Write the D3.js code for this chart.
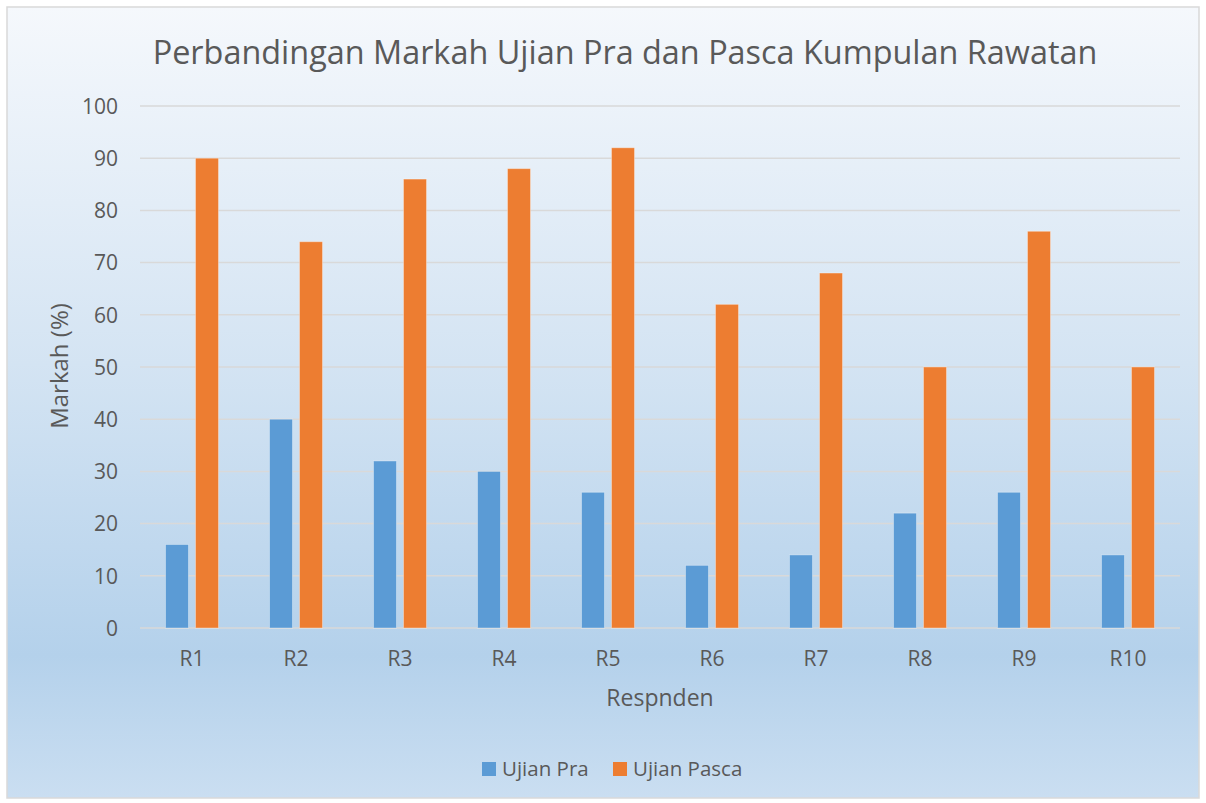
<!DOCTYPE html>
<html><head><meta charset="utf-8">
<script src="https://cdn.jsdelivr.net/npm/d3@7"></script>
<style>html,body{margin:0;padding:0;background:#fff;}svg{display:block;}</style>
</head><body>
<script>
const categories = ["R1","R2","R3","R4","R5","R6","R7","R8","R9","R10"];
const ujianPra = [16,40,32,30,26,12,14,22,26,14];
const ujianPasca = [90,74,86,88,92,62,68,50,76,50];
const seriesNames = ["Ujian Pra","Ujian Pasca"];
const yTicks = [0,10,20,30,40,50,60,70,80,90,100];
const colors = ["#5b9bd5","#ed7d31"];
const font = "'Open Sans', 'Noto Sans', sans-serif";
const textColor = "#595959";

const W = 1206, H = 803;
const svg = d3.select("body").append("svg").attr("width", W).attr("height", H);
const defs = svg.append("defs");
const grad = defs.append("linearGradient").attr("id","bg").attr("x1",0).attr("y1",0).attr("x2",0).attr("y2",1);
grad.append("stop").attr("offset","0%").attr("stop-color","#f5f8fc");
grad.append("stop").attr("offset","45%").attr("stop-color","#d4e4f3");
grad.append("stop").attr("offset","82%").attr("stop-color","#b4d1eb");
grad.append("stop").attr("offset","100%").attr("stop-color","#cadef1");

svg.append("rect").attr("x",7).attr("y",7).attr("width",W-14).attr("height",H-12)
  .attr("fill","url(#bg)").attr("stroke","#d9d9d9").attr("stroke-width",1.5);

const plot = {left:140, right:1180, top:106, bottom:628};
const x = d3.scaleBand().domain(categories).range([plot.left, plot.right]).paddingInner(0).paddingOuter(0);
const y = d3.scaleLinear().domain([0,100]).range([plot.bottom, plot.top]);
const barW = 23, gapW = 7;

// grid
svg.append("g").selectAll("line").data(yTicks).join("line")
  .attr("x1",plot.left).attr("x2",plot.right)
  .attr("y1",d=>y(d)).attr("y2",d=>y(d))
  .attr("stroke","#d9d9d9").attr("stroke-width",1.5);

// y tick labels
const yAxis = d3.axisLeft(y).tickValues(yTicks).tickSize(0).tickPadding(0);
const gy = svg.append("g").attr("transform",`translate(118,0)`).call(yAxis);
gy.select(".domain").remove();
gy.selectAll("text").attr("font-family",font).attr("font-size",21).attr("fill",textColor).attr("dy","0.35em");

// x labels
const xAxis = d3.axisBottom(x).tickSize(0).tickPadding(0);
const gx = svg.append("g").attr("transform",`translate(0,${plot.bottom+31})`).call(xAxis);
gx.select(".domain").remove();
gx.selectAll("text").attr("font-family",font).attr("font-size",21).attr("fill",textColor).attr("dy","0.35em");

const data = [ujianPra, ujianPasca];
const groupW = barW*2+gapW;
data.forEach((vals, si) => {
  svg.append("g").selectAll("rect").data(vals).join("rect")
    .attr("x",(d,i)=> x(categories[i]) + x.bandwidth()/2 - groupW/2 + si*(barW+gapW))
    .attr("y",d=>y(d))
    .attr("width",barW)
    .attr("height",d=>y(0)-y(d))
    .attr("fill",colors[si])
    .attr("stroke","rgba(255,255,255,0.35)").attr("stroke-width",1);
});

// title
svg.append("text").attr("x",(155+1095)/2).attr("y",64).attr("text-anchor","middle")
  .attr("font-family",font).attr("font-size",32.4).attr("fill",textColor)
  .text("Perbandingan Markah Ujian Pra dan Pasca Kumpulan Rawatan");

// axis titles
svg.append("text").attr("transform","translate(68,366) rotate(-90)").attr("text-anchor","middle")
  .attr("font-family",font).attr("font-size",24).attr("fill",textColor).text("Markah (%)");
svg.append("text").attr("x",660).attr("y",706).attr("text-anchor","middle")
  .attr("font-family",font).attr("font-size",23).attr("fill",textColor).text("Respnden");

// legend
const legendX = [482, 613];
seriesNames.forEach((n,i)=>{
  svg.append("rect").attr("x",legendX[i]).attr("y",762).attr("width",14).attr("height",14).attr("fill",colors[i]);
  svg.append("text").attr("x",legendX[i]+20).attr("y",776).attr("font-family",font).attr("font-size",20.5)
    .attr("fill",textColor).text(n);
});
</script>
</body></html>
